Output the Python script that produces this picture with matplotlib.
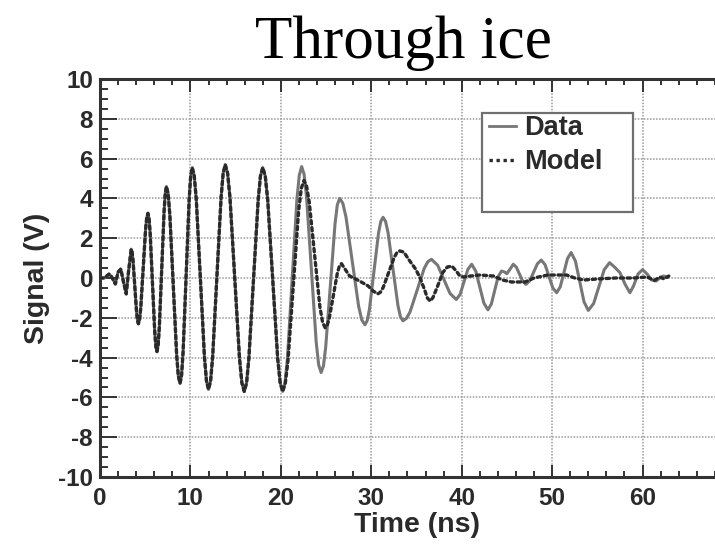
import numpy as np
import matplotlib
matplotlib.use("Agg")
import matplotlib.pyplot as plt
from matplotlib.patches import Rectangle
from matplotlib.lines import Line2D
from matplotlib.ticker import MultipleLocator, FixedLocator

plt.rcParams['axes.unicode_minus'] = False

# ---- data ----
# part where data and model overlap (0 - 20.2 ns)
t_common = [0.0, 0.5, 1.0, 1.3, 1.7, 2.0, 2.3, 2.6, 2.9, 3.15,
            3.45, 3.55, 3.65, 3.85, 4.05, 4.15,
            4.25, 4.38, 4.51, 4.775, 5.04, 5.17,
            5.3, 5.425, 5.55, 5.8, 6.05, 6.175,
            6.3, 6.43, 6.56, 6.825, 7.09, 7.22,
            7.35, 7.54, 7.725, 8.1, 8.475, 8.66,
            8.85, 9.02, 9.19, 9.525, 9.86, 10.03,
            10.2, 10.425, 10.65, 11.1, 11.55, 11.775,
            12.0, 12.23, 12.46, 12.925, 13.39, 13.62,
            13.85, 14.11, 14.375, 14.9, 15.425, 15.69,
            15.95, 16.21, 16.46, 16.975, 17.49, 17.74,
            18.0, 18.275, 18.55, 19.1, 19.65, 19.925,
            20.2]
v_common = [0.0, 0.0, 0.2, 0.05, -0.3, 0.3, 0.45, -0.2, -0.8, 0.3,
            1.45, 1.31, 0.90, -0.43, -1.75, -2.16,
            -2.3, -2.09, -1.49, 0.48, 2.44, 3.04,
            3.25, 2.99, 2.23, -0.23, -2.68, -3.44,
            -3.7, -3.38, -2.48, 0.45, 3.38, 4.28,
            4.6, 4.22, 3.15, -0.35, -3.85, -4.92,
            -5.3, -4.89, -3.71, 0.13, 3.96, 5.14,
            5.55, 5.13, 3.92, -0.03, -3.97, -5.18,
            -5.6, -5.17, -3.95, 0.05, 4.05, 5.27,
            5.7, 5.27, 4.03, 0.0, -4.03, -5.27,
            -5.7, -5.27, -4.05, -0.08, 3.90, 5.12,
            5.55, 5.12, 3.90, -0.08, -4.05, -5.27,
            -5.7]

# measured signal after 20.2 ns
t_data_tail = [20.46, 20.725, 21.25, 21.775, 22.04,
               22.3, 22.57, 22.84, 23.375, 23.91, 24.18,
               24.45, 24.71, 24.96, 25.475, 25.99, 26.24,
               26.5, 26.85, 27.2, 27.9, 28.6, 28.95,
               29.3, 29.55, 29.8, 30.3, 30.8, 31.05,
               31.3, 31.575, 31.85, 32.4, 32.95, 33.225,
               33.5, 33.89, 34.29, 35.075, 35.86, 36.26,
               36.65, 37.34, 38.025, 38.71,
               39.4, 39.825, 40.25, 40.675,
               41.1, 41.55, 42.0, 42.45,
               42.9, 43.275, 43.65, 44.025,
               44.4, 44.75, 45.0, 45.35,
               45.7, 46.05, 46.4, 46.75,
               47.1, 47.525, 47.95, 48.375,
               48.8, 49.225, 49.65, 50.075,
               50.5, 50.9, 51.3, 51.7,
               52.1, 52.575, 53.05, 53.525,
               54.0, 54.59, 55.175, 55.76,
               56.35, 56.9, 57.5, 58.05, 58.6, 59.0, 59.5, 60.0,
               60.5, 61.0, 61.5, 61.9, 62.3, 62.8]
v_data_tail = [-5.27, -4.05, -0.05, 3.95, 5.17,
               5.6, 5.21, 4.08, 0.43, -3.23, -4.36,
               -4.75, -4.42, -3.47, -0.38, 2.72, 3.67,
               4.0, 3.76, 3.07, 0.83, -1.42, -2.11,
               -2.35, -2.14, -1.56, 0.35, 2.26, 2.84,
               3.05, 2.85, 2.29, 0.45, -1.39, -1.95,
               -2.15, -2.03, -1.70, -0.61, 0.49, 0.82,
               0.94, 0.64, -0.07, -0.78,
               -1.08, -0.82, -0.20, 0.43,
               0.69, 0.35, -0.46, -1.26,
               -1.6, -1.31, -0.63, 0.06,
               0.35, 0.3, 0.22, 0.45,
               0.69, 0.54, 0.19, -0.17,
               -0.32, -0.14, 0.29, 0.72,
               0.9, 0.66, 0.08, -0.50,
               -0.74, -0.44, 0.27, 0.98,
               1.28, 0.85, -0.18, -1.20,
               -1.63, -1.28, -0.43, 0.42,
               0.77, 0.55, 0.27, -0.3, -0.74, -0.4, 0.2, 0.42,
               0.2, -0.1, -0.15, 0.0, 0.1, 0.05]

# model after 20.2 ns
t_model_tail = [20.49, 20.79, 21.375, 21.96, 22.26,
                22.55, 22.84, 23.14, 23.725, 24.31, 24.61,
                24.9, 25.125, 25.35, 25.8, 26.25, 26.475,
                26.7, 27.6, 28.7, 29.65, 30.2,
                30.7, 31.0, 31.31, 31.925, 32.54, 32.84,
                33.15, 33.6, 34.25, 34.9, 35.4, 35.9, 36.2,
                36.5, 36.8, 37.3, 37.9, 38.4, 38.9, 39.4, 39.8,
                40.2, 41.0, 42.0, 43.5, 44.5, 45.5, 47.0, 48.0,
                49.5, 51.6, 52.5, 53.5, 55.0, 57.0, 59.0, 60.5,
                61.3, 61.9, 62.4, 62.9]
v_model_tail = [-5.30, -4.15, -0.40, 3.35, 4.50,
                4.9, 4.62, 3.82, 1.2, -1.42, -2.22,
                -2.5, -2.38, -2.03, -0.89, 0.25, 0.60,
                0.72, 0.1, -0.15, -0.4, -0.65,
                -0.8, -0.72, -0.48, 0.28, 1.04, 1.28,
                1.36, 1.3, 0.86, 0.45, 0.0, -0.6, -1.0,
                -1.16, -1.0, -0.45, 0.27, 0.55, 0.6, 0.35, 0.1,
                0.05, 0.1, 0.15, 0.1, -0.1, -0.2, -0.2, 0.0,
                0.15, 0.15, 0.0, -0.1, -0.05, 0.0, 0.0, 0.05,
                -0.12, 0.05, -0.05, 0.1]

x_ticks = [0, 10, 20, 30, 40, 50, 60]

t_data = np.array(t_common + t_data_tail)
v_data = np.array(v_common + v_data_tail)
t_model = np.array(t_common + t_model_tail)
v_model = np.array(v_common + v_model_tail)

# ---- figure ----
W, H = 715, 549
fig = plt.figure(figsize=(W / 100, H / 100), dpi=100)
ax_l, ax_r, ax_t, ax_b = 100, 733, 79, 477
ax = fig.add_axes([ax_l / W, 1 - ax_b / H, (ax_r - ax_l) / W, (ax_b - ax_t) / H])

dark = '#2a2a2a'
sans = 'Liberation Sans'

ax.plot(t_data, v_data, color='#777777', lw=2.2, solid_joinstyle='round', zorder=3)
ax.plot(t_model, v_model, color=dark, lw=2.4, linestyle=(0, (1, 1.1)),
        dash_capstyle='round', zorder=4)

ax.set_xlim(0, 70)
ax.set_ylim(-10, 10)
ax.xaxis.set_major_locator(FixedLocator(x_ticks))
ax.xaxis.set_minor_locator(MultipleLocator(2))
ax.yaxis.set_major_locator(MultipleLocator(2))
ax.yaxis.set_minor_locator(MultipleLocator(0.5))

ax.grid(True, which='major', color='#9a9a9a', lw=1.1, linestyle=(0, (1, 1)))
ax.set_axisbelow(True)

for s in ax.spines.values():
    s.set_color('#333333')
    s.set_linewidth(2.2)

ax.tick_params(axis='both', which='both', direction='in', top=True, right=True,
               color='#333333', width=1.4)
ax.tick_params(axis='x', which='major', length=9, pad=7)
ax.tick_params(axis='x', which='minor', length=4)
ax.tick_params(axis='y', which='major', length=12, pad=5)
ax.tick_params(axis='y', which='minor', length=6)

for lab in ax.get_xticklabels() + ax.get_yticklabels():
    lab.set_fontfamily(sans)
    lab.set_fontweight('bold')
    lab.set_fontsize(17.5)
    lab.set_color(dark)

ax.set_xlabel('Time (ns)', fontfamily=sans, fontweight='bold', fontsize=20.5,
              color=dark, labelpad=2)
ax.set_ylabel('Signal (V)', fontfamily=sans, fontweight='bold', fontsize=20.5,
              color=dark, labelpad=6)

# legend box (tall, with empty lower part as in the original)
aw, ah = ax_r - ax_l, ax_b - ax_t
box = Rectangle(((482 - ax_l) / aw, (ax_b - 212) / ah), (633 - 482) / aw, (212 - 113) / ah,
                transform=ax.transAxes, facecolor='white', edgecolor='#6f6f6f',
                lw=1.6, zorder=6)
ax.add_patch(box)
handles = [Line2D([], [], color='#777777', lw=2.0),
           Line2D([], [], color=dark, lw=2.4, linestyle=(0, (1, 1.1)))]
leg = ax.legend(handles, ['Data', 'Model'], loc='upper left',
                bbox_to_anchor=((489 - ax_l) / aw, (ax_b - 115) / ah),
                frameon=False, borderpad=0, borderaxespad=0, handlelength=1.0,
                handletextpad=0.3, labelspacing=0.3,
                prop={'family': sans, 'weight': 'bold', 'size': 19.5})
leg.set_zorder(7)
for txt in leg.get_texts():
    txt.set_color(dark)

fig.text(403 / W, 1 - 58 / H, 'Through ice', ha='center', va='baseline',
         fontfamily='Liberation Serif', fontsize=44, color='black')

fig.savefig('out.png', dpi=100)
